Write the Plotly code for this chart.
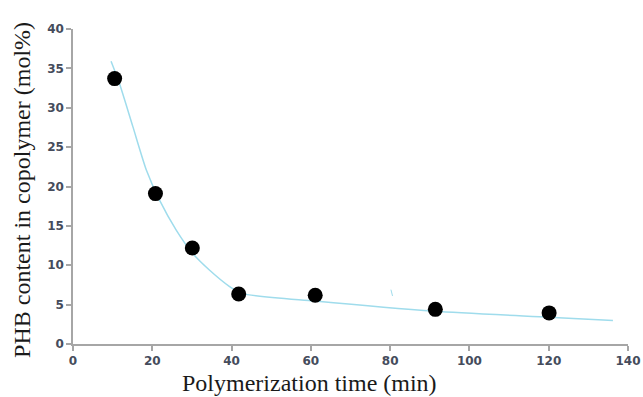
import plotly.graph_objects as go

# Measured data points
time_min = [10.5, 20.8, 30.1, 41.8, 61.1, 91.4, 120.1]
phb_content = [33.7, 19.1, 12.2, 6.35, 6.2, 4.4, 3.95]

# Fitted curve
curve_x = [9.6, 11.7, 15.1, 18.5, 21.8, 26.0, 30.2, 34.4, 39.5, 42.8, 61.0, 91.4, 120.0, 136.2]
curve_y = [35.9, 33.1, 27.6, 22.1, 18.3, 14.5, 11.5, 9.4, 7.3, 6.4, 5.45, 4.15, 3.4, 2.97]

# Small stray stroke in the original
stray_x = [80.2, 80.6]
stray_y = [6.9, 6.1]

x_ticks = [0, 20, 40, 60, 80, 100, 120, 140]
y_ticks = [0, 5, 10, 15, 20, 25, 30, 35, 40]

x_title = "Polymerization time (min)"
y_title = "PHB content in copolymer (mol%)"

fig = go.Figure()
fig.add_trace(go.Scatter(x=curve_x, y=curve_y, mode="lines",
                         line=dict(color="#9fdcec", width=1.5, shape="spline", smoothing=0.6),
                         hoverinfo="skip", showlegend=False))
fig.add_trace(go.Scatter(x=stray_x, y=stray_y, mode="lines",
                         line=dict(color="#9fdcec", width=1),
                         hoverinfo="skip", showlegend=False))
fig.add_trace(go.Scatter(x=time_min, y=phb_content, mode="markers",
                         marker=dict(color="black", size=15),
                         showlegend=False))

axis_common = dict(showgrid=False, zeroline=False, showline=True,
                   linecolor="#a6a6a6", linewidth=1.5,
                   ticks="outside", ticklen=5, tickcolor="#a6a6a6", tickwidth=1.5,
                   automargin=False,
                   tickfont=dict(family="DejaVu Sans", size=12, color="#454c5c", weight="bold"))

title_font = dict(family="Liberation Serif", size=24, color="#1a1a1a")

fig.update_layout(
    width=643, height=397,
    margin=dict(l=73, r=15, t=29, b=53),
    plot_bgcolor="white", paper_bgcolor="white",
    xaxis=dict(range=[0, 140], tickvals=x_ticks, ticktext=[str(v) for v in x_ticks],
               **axis_common),
    yaxis=dict(range=[0, 40], tickvals=y_ticks, ticktext=[str(v) for v in y_ticks],
               **axis_common),
    annotations=[
        dict(text=x_title, xref="paper", yref="paper", x=0.427, y=-0.124,
             xanchor="center", yanchor="middle", showarrow=False, font=title_font),
        dict(text=y_title, xref="paper", yref="paper", x=-0.092, y=0.489,
             xanchor="center", yanchor="middle", textangle=-90, showarrow=False,
             font=title_font),
    ],
)

fig.write_html("out.html")
